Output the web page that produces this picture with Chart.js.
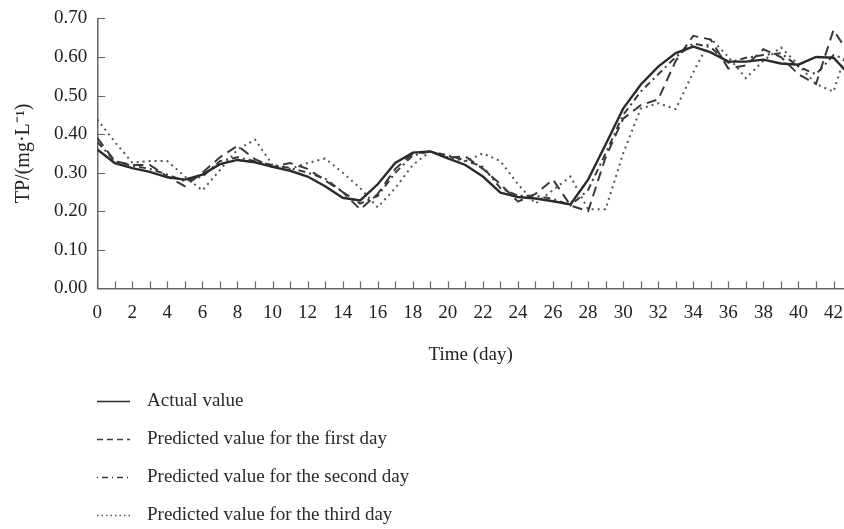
<!DOCTYPE html>
<html>
<head>
<meta charset="utf-8">
<script src="https://cdn.jsdelivr.net/npm/chart.js@4/dist/chart.umd.min.js"></script>
<style>
body { margin: 0; background: #fff; overflow: hidden; }
#wrap { position: relative; width: 856px; height: 532px; margin-top: -3px; }
</style>
</head>
<body>
<div id="wrap"><canvas id="tp-chart"></canvas></div>
<script>
var days = [0, 1, 2, 3, 4, 5, 6, 7, 8, 9, 10, 11, 12, 13, 14, 15, 16, 17, 18, 19, 20, 21,
	22, 23, 24, 25, 26, 27, 28, 29, 30, 31, 32, 33, 34, 35, 36, 37, 38, 39, 40, 41, 42, 43];

var actual = [0.36, 0.325, 0.312, 0.302, 0.288, 0.282, 0.295, 0.322, 0.333, 0.327, 0.315,
	0.305, 0.29, 0.265, 0.235, 0.228, 0.27, 0.325, 0.352, 0.355, 0.337, 0.32, 0.29, 0.248,
	0.237, 0.233, 0.226, 0.218, 0.282, 0.373, 0.466, 0.528, 0.575, 0.61, 0.627, 0.612,
	0.588, 0.588, 0.593, 0.583, 0.58, 0.60, 0.598, 0.55];

var firstDay = [0.39, 0.33, 0.32, 0.32, 0.29, 0.265, 0.30, 0.34, 0.37, 0.335, 0.315,
	0.325, 0.31, 0.28, 0.25, 0.205, 0.245, 0.31, 0.35, 0.355, 0.34, 0.342, 0.31, 0.27,
	0.225, 0.245, 0.282, 0.215, 0.20, 0.34, 0.44, 0.475, 0.49, 0.59, 0.655, 0.645,
	0.57, 0.578, 0.62, 0.60, 0.555, 0.53, 0.67, 0.60];

var secondDay = [0.38, 0.33, 0.318, 0.31, 0.295, 0.278, 0.29, 0.33, 0.34, 0.33, 0.32,
	0.312, 0.30, 0.285, 0.25, 0.22, 0.24, 0.30, 0.345, 0.355, 0.345, 0.332, 0.315, 0.26,
	0.24, 0.24, 0.232, 0.215, 0.255, 0.35, 0.45, 0.51, 0.555, 0.60, 0.635, 0.625,
	0.585, 0.598, 0.605, 0.61, 0.575, 0.555, 0.605, 0.59];

var thirdDay = [0.438, 0.38, 0.326, 0.33, 0.33, 0.29, 0.254, 0.307, 0.36, 0.386, 0.32,
	0.31, 0.325, 0.337, 0.30, 0.26, 0.21, 0.26, 0.32, 0.355, 0.34, 0.33, 0.35, 0.33,
	0.27, 0.22, 0.255, 0.29, 0.205, 0.205, 0.35, 0.466, 0.48, 0.465, 0.56, 0.648,
	0.60, 0.545, 0.59, 0.625, 0.58, 0.53, 0.51, 0.65];

var seriesNames = ['Actual value', 'Predicted value for the first day',
	'Predicted value for the second day', 'Predicted value for the third day'];

var serif = "'Liberation Serif', 'Times New Roman', serif";

function points(values) {
	var out = [];
	for (var i = 0; i < values.length; i++) {
		out.push({ x: days[i], y: values[i] });
	}
	return out;
}

// tick marks point inward, so they are drawn here
var innerTicks = {
	id: 'innerTicks',
	afterDatasetsDraw: function(chart) {
		var ctx = chart.ctx;
		var area = chart.chartArea;
		var xs = chart.scales.x, ys = chart.scales.y;
		ctx.save();
		ctx.strokeStyle = '#666';
		ctx.lineWidth = 1.2;
		ctx.beginPath();
		xs.ticks.forEach(function(t) {
			var px = Math.round(xs.getPixelForValue(t.value)) + 0.5;
			ctx.moveTo(px, area.bottom);
			ctx.lineTo(px, area.bottom - 7);
		});
		ys.ticks.forEach(function(t) {
			var py = Math.round(ys.getPixelForValue(t.value)) + 0.5;
			ctx.moveTo(area.left, py);
			ctx.lineTo(area.left + 8, py);
		});
		ctx.stroke();
		ctx.restore();
	}
};

// legend as a vertical list under the axis title
var listLegend = {
	id: 'listLegend',
	afterDraw: function(chart) {
		var ctx = chart.ctx;
		var x0 = 97, y0 = 404, gap = 38;
		ctx.save();
		chart.data.datasets.forEach(function(ds, i) {
			var y = y0 + i * gap;
			ctx.strokeStyle = ds.borderColor;
			ctx.lineWidth = i == 0 ? 1.6 : 1.4;
			ctx.setLineDash(ds.legendDash);
			ctx.beginPath();
			ctx.moveTo(x0, y + 0.5);
			ctx.lineTo(x0 + 33, y + 0.5);
			ctx.stroke();
			ctx.setLineDash([]);
			ctx.fillStyle = '#2a2a2a';
			ctx.font = '19px ' + serif;
			ctx.textBaseline = 'middle';
			ctx.fillText(ds.label, 147, y);
		});
		ctx.restore();
	}
};

var config_tp = {
	type: 'line',
	data: {
		datasets: [{
			label: seriesNames[0],
			data: points(actual),
			borderColor: '#2b2b2b',
			borderWidth: 2.4,
			borderDash: [],
			legendDash: []
		}, {
			label: seriesNames[1],
			data: points(firstDay),
			borderColor: '#3a3a3a',
			borderWidth: 2,
			borderDash: [10, 6],
			legendDash: [6, 4]
		}, {
			label: seriesNames[2],
			data: points(secondDay),
			borderColor: '#3a3a3a',
			borderWidth: 2,
			borderDash: [7, 4, 2, 4],
			legendDash: [1, 4, 6, 4]
		}, {
			label: seriesNames[3],
			data: points(thirdDay),
			borderColor: '#555',
			borderWidth: 2,
			borderDash: [2, 4],
			legendDash: [1.5, 3]
		}]
	},
	options: {
		responsive: true,
		maintainAspectRatio: false,
		animation: false,
		layout: {
			padding: { left: 12, right: 0, top: 14, bottom: 163 }
		},
		elements: {
			point: { radius: 0 },
			line: { tension: 0, fill: false }
		},
		plugins: {
			legend: { display: false },
			tooltip: { enabled: false }
		},
		scales: {
			x: {
				type: 'linear',
				min: 0,
				max: 42.6,
				grid: { display: false, drawTicks: false },
				border: { display: true, color: '#666', width: 1.5 },
				ticks: {
					stepSize: 1,
					includeBounds: false,
					maxRotation: 0,
					autoSkip: false,
					padding: 13,
					color: '#222',
					font: { family: serif, size: 19 },
					callback: function(v) { return v % 2 == 0 ? String(v) : ''; }
				},
				title: {
					display: true,
					text: 'Time (day)',
					color: '#222',
					font: { family: serif, size: 19 },
					padding: { top: 6, bottom: 0 }
				}
			},
			y: {
				min: 0,
				max: 0.7,
				grid: { display: false, drawTicks: false },
				border: { display: true, color: '#666', width: 1.5 },
				ticks: {
					stepSize: 0.1,
					padding: 10,
					color: '#222',
					font: { family: serif, size: 19 },
					callback: function(v) { return v.toFixed(2); }
				},
				title: {
					display: true,
					text: 'TP/(mg\u00b7L\u207b\u00b9)',
					color: '#222',
					font: { family: serif, size: 20 },
					padding: { top: 0, bottom: 8 }
				}
			}
		}
	},
	plugins: [innerTicks, listLegend]
};

window.onload = function() {
	var ctx = document.getElementById('tp-chart').getContext('2d');
	window.tpChart = new Chart(ctx, config_tp);
};
</script>
</body>
</html>
